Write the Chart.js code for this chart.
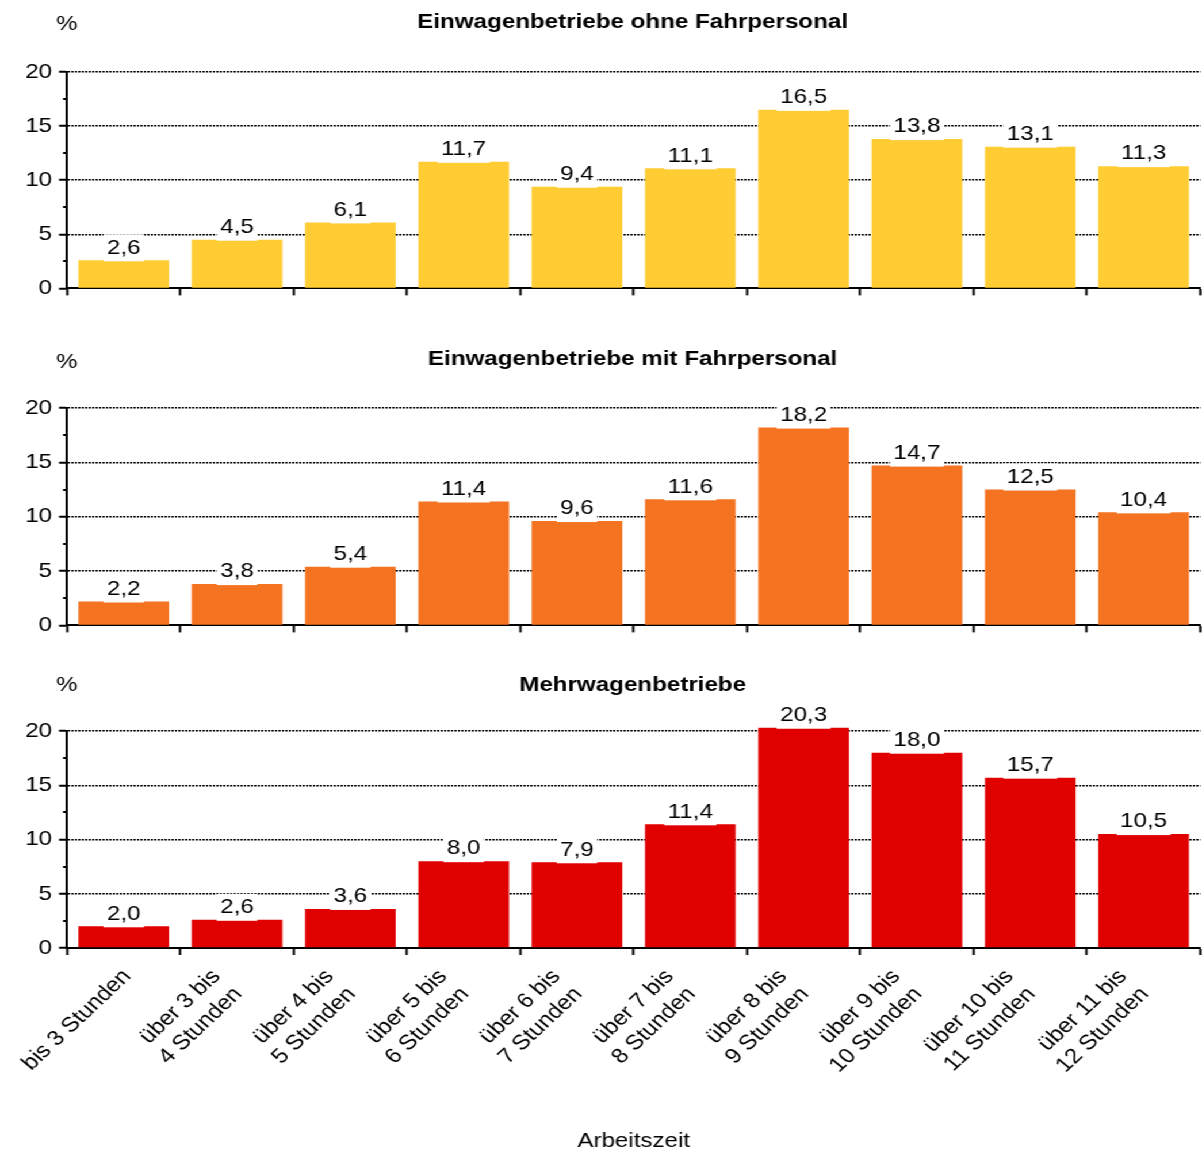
<!DOCTYPE html>
<html>
<head>
<meta charset="utf-8">
<script src="https://cdn.jsdelivr.net/npm/chart.js@4"></script>
<style>
  body { margin: 0; background: #fff; overflow: hidden; }
  #stage { position: absolute; left: 0; top: 0; width: 1045px; height: 1151px;
           transform: scaleX(1.15024); transform-origin: 0 0; }
  canvas { position: absolute; left: 0; }
</style>
</head>
<body>
<div id="stage">
<canvas id="chart1" width="1045" height="307" style="top:0"></canvas>
<canvas id="chart2" width="1045" height="308" style="top:336px"></canvas>
<canvas id="chart3" width="1045" height="494" style="top:660px"></canvas>
</div>
<script>
// Arbeitszeit categories and shares in %
const categories = [
    ['bis 3 Stunden'],
    ['über 3 bis', '4 Stunden'],
    ['über 4 bis', '5 Stunden'],
    ['über 5 bis', '6 Stunden'],
    ['über 6 bis', '7 Stunden'],
    ['über 7 bis', '8 Stunden'],
    ['über 8 bis', '9 Stunden'],
    ['über 9 bis', '10 Stunden'],
    ['über 10 bis', '11 Stunden'],
    ['über 11 bis', '12 Stunden']
];
const ohneFahrpersonal = [2.6, 4.5, 6.1, 11.7, 9.4, 11.1, 16.5, 13.8, 13.1, 11.3];
const mitFahrpersonal = [2.2, 3.8, 5.4, 11.4, 9.6, 11.6, 18.2, 14.7, 12.5, 10.4];
const mehrwagen = [2.0, 2.6, 3.6, 8.0, 7.9, 11.4, 20.3, 18.0, 15.7, 10.5];
const minorTicks = [2.5, 7.5, 12.5, 17.5];

const fontFamily = '"Liberation Sans", Arial, sans-serif';
Chart.defaults.font.family = fontFamily;
Chart.defaults.color = '#000';

// Titles, % label, minor ticks, rotated category labels and value labels
const extrasPlugin = {
    id: 'extras',
    afterDraw(chart) {
        const o = chart.options.plugins.extras;
        const ctx = chart.ctx;
        const x = chart.scales.x;
        const y = chart.scales.y;
        ctx.save();
        ctx.fillStyle = '#000';
        ctx.font = 'bold 21px ' + fontFamily;
        ctx.textAlign = 'center';
        ctx.textBaseline = 'middle';
        ctx.fillText(o.title, 550, o.titleY);
        ctx.font = '21px ' + fontFamily;
        ctx.fillText('%', 58, o.pctY);

        // minor ticks
        ctx.strokeStyle = '#000';
        ctx.lineWidth = 2;
        minorTicks.forEach(v => {
            const py = Math.round(y.getPixelForValue(v));
            ctx.beginPath();
            ctx.moveTo(y.right - 3.5, py);
            ctx.lineTo(y.right, py);
            ctx.stroke();
        });

        // category labels, rotated
        if (o.showLabels) {
            ctx.textAlign = 'right';
            ctx.textBaseline = 'middle';
            const angle = 47 * Math.PI / 180;
            categories.forEach((lines, i) => {
                ctx.save();
                ctx.translate(x.getPixelForValue(i) + 3 - (lines.length - 1) * 21,
                              chart.chartArea.bottom + 25);
                ctx.rotate(-angle);
                lines.forEach((line, k) => {
                    ctx.fillText(line, 0, k * 26);
                });
                ctx.restore();
            });
        }

        // value labels with white background
        const meta = chart.getDatasetMeta(0);
        const data = chart.data.datasets[0].data;
        ctx.textAlign = 'center';
        ctx.textBaseline = 'bottom';
        meta.data.forEach((bar, i) => {
            const text = data[i].toFixed(1).replace('.', ',');
            const w = ctx.measureText(text).width;
            ctx.fillStyle = '#fff';
            ctx.fillRect(bar.x - w / 2 - 3, bar.y - 26, w + 6, 27);
            ctx.fillStyle = '#000';
            ctx.fillText(text, bar.x, bar.y - 2);
        });
        ctx.restore();
    }
};

function makeChart(id, values, color, title, titleY, pctY, padTop, showLabels) {
    const ctx = document.getElementById(id).getContext('2d');
    return new Chart(ctx, {
        type: 'bar',
        data: {
            labels: categories.map(c => c.join(' ')),
            datasets: [{
                data: values,
                backgroundColor: color,
                borderWidth: 0,
                categoryPercentage: 0.8,
                barPercentage: 1,
                clip: false
            }]
        },
        options: {
            responsive: false,
            animation: false,
            layout: { padding: { top: padTop, right: 1.5, left: 0, bottom: 0 } },
            scales: {
                x: {
                    grid: {
                        offset: true,
                        drawOnChartArea: false,
                        drawTicks: true,
                        tickLength: 7,
                        tickColor: '#000',
                        tickWidth: 2
                    },
                    border: { display: true, color: '#000', width: 2 },
                    ticks: { display: false },
                    title: {
                        display: showLabels,
                        text: 'Arbeitszeit',
                        font: { size: 21 },
                        color: '#000',
                        padding: { top: 0, bottom: 0 }
                    },
                    afterFit(scale) { scale.height = showLabels ? 206 : 12; }
                },
                y: {
                    min: 0,
                    max: 20,
                    ticks: {
                        stepSize: 5,
                        padding: 6,
                        font: { size: 21 },
                        color: '#000'
                    },
                    grid: {
                        color: c => c.tick && c.tick.value === 0 ? 'rgba(0,0,0,0)' : '#000',
                        lineWidth: 1.5,
                        tickColor: '#000',
                        tickBorderDash: [],
                        tickLength: 7,
                        tickWidth: 2
                    },
                    border: { display: true, color: '#000', width: 2, dash: [2, 1] },
                    afterFit(scale) { scale.width = 58.3; }
                }
            },
            plugins: {
                legend: { display: false },
                tooltip: { enabled: false },
                extras: { title: title, titleY: titleY, pctY: pctY, showLabels: showLabels }
            }
        },
        plugins: [extrasPlugin]
    });
}

makeChart('chart1', ohneFahrpersonal, '#FFCC33', 'Einwagenbetriebe ohne Fahrpersonal', 22, 24, 72, false);
makeChart('chart2', mitFahrpersonal, '#F47321', 'Einwagenbetriebe mit Fahrpersonal', 23, 26, 72, false);
makeChart('chart3', mehrwagen, '#E00000', 'Mehrwagenbetriebe', 25, 25, 71, true);
</script>
</body>
</html>
